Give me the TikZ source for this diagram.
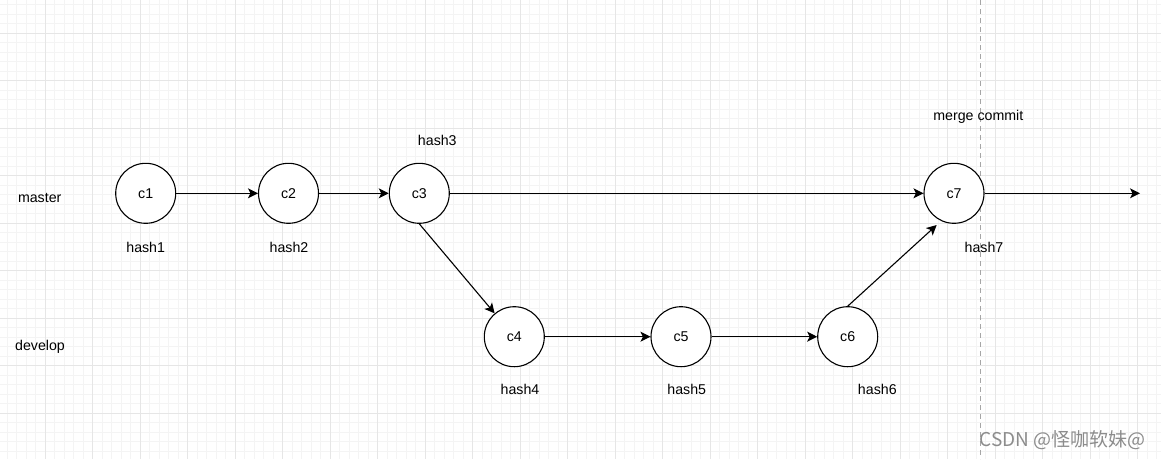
\documentclass[tikz,border=0pt]{standalone}
\usepackage{fontspec}
\setmainfont{Liberation Sans}
\newfontfamily\cjkfont{Noto Sans CJK SC}
\usetikzlibrary{arrows.meta}
\definecolor{gridmajor}{HTML}{E6E6E6}
\definecolor{gridminor}{HTML}{F4F4F4}
\definecolor{wmgray}{HTML}{8C8C8C}
\tikzset{
  commit/.style={circle, draw=black, line width=1.1pt, minimum size=60pt, inner sep=0pt, fill=white, font=\fontsize{14.2}{17}\selectfont},
  lbl/.style={font=\fontsize{14.2}{17}\selectfont, inner sep=0pt},
  flow/.style={line width=1.1pt, -{Stealth[length=10pt,width=10pt,inset=2.5pt]}},
  minorline/.style={gridminor, line width=0.8pt},
  majorline/.style={gridmajor, line width=0.9pt}
}
\begin{document}
\begin{tikzpicture}[x=1pt,y=-1pt]
\useasboundingbox (0,0) rectangle (1161,459);
\fill[white] (0,0) rectangle (1161,459);
% grid
\foreach \i in {1,...,123} \draw[minorline] ({-2.5+9.5*\i},0) -- ({-2.5+9.5*\i},459);
\foreach \j in {2,...,50} \draw[minorline] (0,{-14.2+9.5*\j}) -- (1161,{-14.2+9.5*\j});
\foreach \i in {1,...,25} \draw[majorline] ({-2.5+47.5*\i},0) -- ({-2.5+47.5*\i},459);
\foreach \j in {1,...,10} \draw[majorline] (0,{-14.2+47.5*\j}) -- (1161,{-14.2+47.5*\j});
% dashed line
\draw[gray!70, line width=0.8pt, dash pattern=on 5pt off 4pt] (980,0) -- (980,459);
% nodes
\node[commit] (c1) at (145.7,193.3) {c1};
\node[commit] (c2) at (288.5,193.3) {c2};
\node[commit] (c3) at (419.3,193.3) {c3};
\node[commit] (c7) at (954,193.3) {c7};
\node[commit] (c4) at (514.3,336.7) {c4};
\node[commit] (c5) at (681,336.7) {c5};
\node[commit] (c6) at (847.7,336.7) {c6};
\coordinate (mend) at (1140,193.3);
% labels
\node[lbl] (master) at (39.7,198) {master};
\node[lbl] (develop) at (40,347) {develop};
\node[lbl] (h1) at (145.7,247.5) {hash1};
\node[lbl] (h2) at (289,247.5) {hash2};
\node[lbl] (h3) at (437.3,140.7) {hash3};
\node[lbl] (h4) at (520,389.5) {hash4};
\node[lbl] (h5) at (686.7,389.5) {hash5};
\node[lbl] (h6) at (877.3,389.5) {hash6};
\node[lbl] (h7) at (984,247.5) {hash7};
\node[lbl] (mc) at (978.3,116.7) {merge commit};
% connectors
\draw[flow] (c1) -- (c2);
\draw[flow] (c2) -- (c3);
\draw[flow] (c3) -- (c7);
\draw[flow] (c7) -- (mend);
\draw[flow] (c3.south) -- (c4);
\draw[flow] (c4) -- (c5);
\draw[flow] (c5) -- (c6);
\draw[flow, shorten >=6pt] (c6.north) -- (c7.245);
% watermark
\node[font=\cjkfont\fontsize{19}{22}\selectfont, text=wmgray, inner sep=0pt] (wm) at (1062.5,440) {CSDN @怪咖软妹@};
\end{tikzpicture}
\end{document}
